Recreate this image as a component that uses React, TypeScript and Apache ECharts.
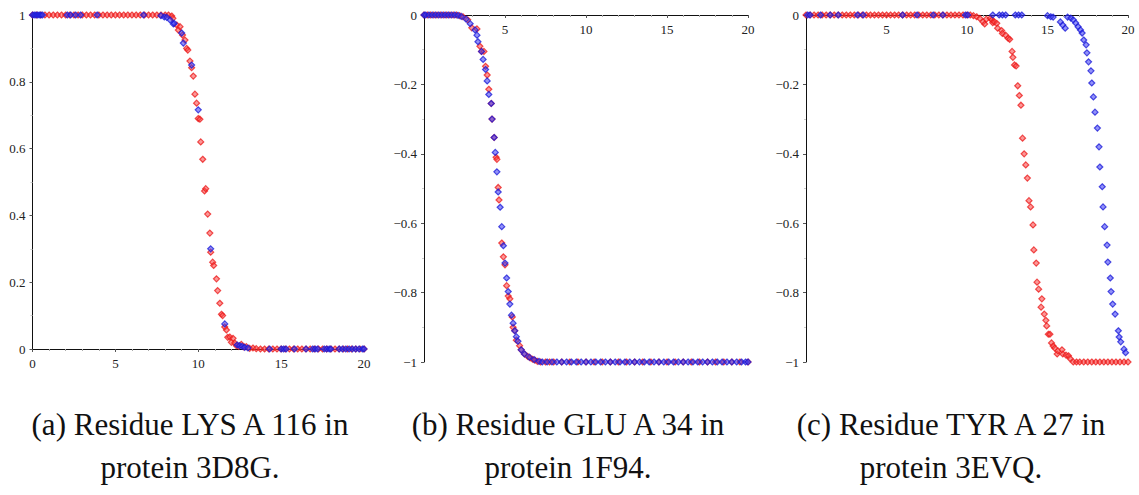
import React, { useEffect, useRef } from "react";
import * as echarts from "echarts";

// Panel (a): Residue LYS A 116 in protein 3D8G
const aRed: [number, number][] = [
  [0, 1], [0.25, 1], [0.5, 1], [0.75, 1], [1, 1], [1.25, 1], [1.5, 1], [1.75, 1], [2, 1], [2.25, 1], [2.5, 1], [2.75, 1],
  [3, 1], [3.25, 1], [3.5, 1], [3.75, 1], [4, 1], [4.25, 1], [4.5, 1], [4.75, 1], [5, 1], [5.25, 1], [5.5, 1], [5.75, 1],
  [6, 1], [6.25, 1], [6.5, 1], [6.75, 1], [7, 1], [7.25, 1], [7.5, 1], [7.75, 1], [8, 1], [8.2, 1],
  [8.4, 0.997], [8.47, 0.99], [8.7, 0.97], [8.8, 0.955], [8.9, 0.965], [9.05, 0.94], [9.2, 0.925], [9.3, 0.9],
  [9.37, 0.895], [9.5, 0.862], [9.6, 0.842], [9.7, 0.817], [9.8, 0.763], [9.9, 0.736], [10.0, 0.69], [10.1, 0.688],
  [10.15, 0.62], [10.27, 0.568], [10.38, 0.473], [10.45, 0.48], [10.57, 0.404], [10.7, 0.347], [10.75, 0.29],
  [10.87, 0.26], [10.93, 0.25], [11.1, 0.21], [11.17, 0.175], [11.3, 0.137], [11.4, 0.104], [11.47, 0.1],
  [11.6, 0.066], [11.7, 0.057], [11.78, 0.035], [11.9, 0.036], [12.0, 0.02], [12.1, 0.032], [12.2, 0.018],
  [12.3, 0.01], [12.45, 0.008], [12.6, 0.014], [12.75, 0.006], [12.9, 0.007],
  [13.1, 0.002], [13.3, 0.003], [13.5, 0.001], [13.75, 0], [14, 0], [14.25, 0], [14.5, 0], [14.75, 0], [15, 0],
  [15.25, 0], [15.5, 0], [15.75, 0], [16, 0], [16.25, 0], [16.5, 0], [16.75, 0], [17, 0], [17.25, 0], [17.5, 0],
  [17.75, 0], [18, 0], [18.25, 0], [18.5, 0], [18.75, 0], [19, 0], [19.25, 0], [19.5, 0], [19.75, 0], [20, 0],
];
const aBlue: [number, number][] = [
  [0, 1], [0.1, 1], [0.2, 1], [0.3, 1], [0.4, 1], [0.5, 1], [0.6, 1], [2.1, 1], [2.3, 1], [2.6, 1], [2.9, 1],
  [3.9, 1], [6.7, 1], [7.75, 0.998], [7.95, 0.994], [8.1, 0.993], [8.3, 0.985], [8.5, 0.973], [8.55, 0.975],
  [9.0, 0.946], [9.1, 0.916], [9.6, 0.85], [10.0, 0.716], [10.75, 0.3], [11.6, 0.075], [12.35, 0.012],
  [12.5, 0.01], [12.65, 0.008], [12.8, 0.005], [13.0, 0.003], [14.3, 0], [15.0, 0], [15.15, 0], [15.3, 0],
  [15.8, 0], [16.5, 0], [16.9, 0], [17.05, 0], [17.2, 0], [17.6, 0], [17.75, 0], [17.9, 0], [18.0, 0],
  [18.5, 0], [18.7, 0], [18.9, 0], [19.1, 0], [19.3, 0], [19.5, 0], [19.7, 0], [19.9, 0], [20, 0],
];

// Panel (b): Residue GLU A 34 in protein 1F94
const bRed: [number, number][] = [
  [0, 0], [0.2, 0], [0.4, 0], [0.6, 0], [0.8, 0], [1.0, 0], [1.2, 0], [1.4, 0], [1.6, 0], [1.8, 0], [2.0, 0],
  [2.2, -0.002], [2.4, -0.005], [2.7, -0.014], [2.95, -0.037], [3.27, -0.04], [3.45, -0.09], [3.55, -0.105],
  [3.7, -0.105], [3.8, -0.148], [3.9, -0.173], [4.0, -0.214], [4.15, -0.255], [4.2, -0.3], [4.33, -0.353],
  [4.45, -0.41], [4.5, -0.416], [4.58, -0.497], [4.63, -0.533], [4.8, -0.657], [4.9, -0.697], [5.0, -0.72],
  [5.1, -0.78], [5.2, -0.81], [5.3, -0.818], [5.45, -0.87], [5.5, -0.9], [5.6, -0.91], [5.7, -0.937],
  [5.9, -0.953], [6.0, -0.965], [6.2, -0.977], [6.4, -0.984], [6.55, -0.988], [6.7, -0.992], [6.85, -0.995],
  [7.0, -0.998], [7.2, -1], [7.5, -1], [7.75, -1], [8, -1], [8.5, -1], [9, -1], [9.5, -1], [10, -1], [10.5, -1],
  [11, -1], [11.5, -1], [12, -1], [12.5, -1], [13, -1], [13.5, -1], [14, -1], [14.5, -1], [15, -1], [15.5, -1],
  [16, -1], [16.5, -1], [17, -1], [17.5, -1], [18, -1], [18.5, -1], [19, -1], [19.5, -1], [20, -1],
];
const bBlue: [number, number][] = [
  [0, 0], [0.1, 0], [0.3, 0], [0.5, 0], [0.7, 0], [0.9, 0], [1.1, 0], [1.3, 0], [1.5, 0], [1.7, 0], [1.9, 0],
  [2.1, -0.001], [2.3, -0.004], [2.6, -0.012], [2.85, -0.025], [3.15, -0.043], [3.27, -0.058], [3.33, -0.077],
  [3.55, -0.105], [3.65, -0.128], [3.8, -0.157], [3.9, -0.19], [4.0, -0.229], [4.15, -0.255], [4.2, -0.3],
  [4.33, -0.353], [4.4, -0.396], [4.5, -0.452], [4.58, -0.51], [4.7, -0.554], [4.8, -0.61], [4.9, -0.665],
  [5.0, -0.715], [5.1, -0.758], [5.2, -0.797], [5.3, -0.833], [5.4, -0.865], [5.5, -0.888], [5.6, -0.91],
  [5.7, -0.927], [5.8, -0.94], [6.0, -0.965], [6.2, -0.977], [6.5, -0.986], [6.8, -0.993], [7.1, -0.998],
  [7.3, -1], [7.6, -1], [7.9, -1], [8.2, -1], [8.5, -1], [8.8, -1], [9.1, -1], [9.4, -1], [9.7, -1], [10, -1],
  [10.3, -1], [10.6, -1], [10.9, -1], [11.2, -1], [11.5, -1], [11.8, -1], [12.1, -1], [12.4, -1], [12.7, -1],
  [13, -1], [13.3, -1], [13.6, -1], [13.9, -1], [14.2, -1], [14.5, -1], [14.8, -1], [15.1, -1], [15.4, -1],
  [15.7, -1], [16, -1], [16.3, -1], [16.6, -1], [16.9, -1], [17.2, -1], [17.5, -1], [17.8, -1], [18.1, -1],
  [18.4, -1], [18.7, -1], [19, -1], [19.3, -1], [19.6, -1], [19.85, -1], [20, -1],
];

// Panel (c): Residue TYR A 27 in protein 3EVQ
const cRed: [number, number][] = [
  [0, 0], [0.25, 0], [0.5, 0], [0.75, 0], [1, 0], [1.25, 0], [1.5, 0], [1.75, 0], [2, 0], [2.25, 0], [2.5, 0],
  [2.75, 0], [3, 0], [3.25, 0], [3.5, 0], [3.75, 0], [4, 0], [4.25, 0], [4.5, 0], [4.75, 0], [5, 0], [5.25, 0],
  [5.5, 0], [5.75, 0], [6, 0], [6.25, 0], [6.5, 0], [6.75, 0], [7, 0], [7.25, 0], [7.5, 0], [7.75, 0], [8, 0],
  [8.25, 0], [8.5, 0], [8.75, 0], [9, 0], [9.25, 0], [9.5, 0], [9.75, 0], [10, 0], [10.2, 0], [10.4, -0.002],
  [10.6, -0.005], [10.8, -0.01], [11.0, -0.02], [11.1, -0.026], [11.2, -0.012], [11.45, -0.01], [11.55, -0.014],
  [11.6, -0.022], [11.7, -0.02], [11.85, -0.024], [11.9, -0.038], [12.15, -0.045], [12.2, -0.053], [12.4, -0.058],
  [12.55, -0.067], [12.65, -0.07], [12.8, -0.105], [12.85, -0.122], [12.95, -0.144], [13.05, -0.147],
  [13.15, -0.204], [13.25, -0.232], [13.35, -0.26], [13.45, -0.355], [13.55, -0.4], [13.65, -0.432],
  [13.75, -0.47], [13.85, -0.535], [13.95, -0.553], [14.1, -0.605], [14.15, -0.677], [14.3, -0.715],
  [14.35, -0.77], [14.45, -0.79], [14.6, -0.842], [14.65, -0.818], [14.8, -0.862], [14.9, -0.88],
  [14.95, -0.896], [15.05, -0.92], [15.15, -0.92], [15.25, -0.945], [15.35, -0.954], [15.45, -0.96],
  [15.6, -0.977], [15.65, -0.968], [15.9, -0.965], [15.95, -0.977], [16.15, -0.98], [16.3, -0.982],
  [16.4, -0.99], [16.6, -1], [16.8, -1], [17, -1], [17.25, -1], [17.5, -1], [17.75, -1], [18, -1], [18.25, -1],
  [18.5, -1], [18.75, -1], [19, -1], [19.25, -1], [19.5, -1], [19.75, -1], [20, -1],
];
const cBlue: [number, number][] = [
  [0.1, 0], [0.25, 0], [0.9, 0], [1.5, 0], [2.0, 0], [3.2, 0], [3.55, 0], [6.0, 0], [6.9, 0], [7.9, 0], [8.5, 0],
  [9.9, 0], [10.05, 0], [11.6, 0], [12.0, 0], [12.2, 0], [12.4, 0], [13.0, 0], [13.2, 0], [13.4, 0], [15.0, -0.002],
  [15.2, -0.005], [15.35, -0.006], [15.8, -0.02], [15.95, -0.029], [16.1, -0.038], [16.25, -0.006],
  [16.45, -0.009], [16.6, -0.014], [16.75, -0.023], [16.9, -0.034], [17.05, -0.043], [17.15, -0.052],
  [17.25, -0.072], [17.4, -0.086], [17.45, -0.109], [17.55, -0.135], [17.7, -0.161], [17.75, -0.196],
  [17.85, -0.236], [17.95, -0.28], [18.1, -0.326], [18.2, -0.38], [18.25, -0.438], [18.4, -0.495],
  [18.45, -0.553], [18.55, -0.61], [18.7, -0.663], [18.75, -0.712], [18.9, -0.758], [18.95, -0.797],
  [19.05, -0.833], [19.2, -0.862], [19.4, -0.91], [19.45, -0.928], [19.55, -0.942], [19.75, -0.963], [19.85, -0.973],
];

const captionLine1 = ["(a) Residue LYS A 116 in", "(b) Residue GLU A 34 in", "(c) Residue TYR A 27 in"];
const captionLine2 = ["protein 3D8G.", "protein 1F94.", "protein 3EVQ."];
const xTicks = { min: 0, max: 20, interval: 5 };

export default function App() {
  const ref = useRef<HTMLDivElement>(null);
  useEffect(() => {
    if (!ref.current) return;
    const chart = echarts.init(ref.current, undefined, { renderer: "svg" });
    const font = "Liberation Serif";
    const axisLine = { show: true, onZero: false, lineStyle: { color: "#111", width: 1 } };
    const label = { color: "#222", fontFamily: font, fontSize: 13 };
    const fmtY = (v: number) => {
      const r = Math.round(v * 10) / 10;
      if (r === 0) return "0";
      if (r === 1) return "1";
      if (r === -1) return "\u22121";
      return (r < 0 ? "\u2212" : "") + Math.abs(r).toFixed(1);
    };
    const grids = [
      { left: 32.5, top: 15, width: 331.5, height: 334 },
      { left: 424, top: 15, width: 324, height: 347 },
      { left: 806, top: 15, width: 322, height: 347 },
    ];
    const xAxes = grids.map((_, i) => ({
      type: "value",
      gridIndex: i,
      position: i === 0 ? "bottom" : "top",
      ...xTicks,
      axisLine,
      axisTick: { show: true, inside: i > 0, length: 3, lineStyle: { color: "#555" } },
      minorTick: { show: true, splitNumber: 5, length: 2, lineStyle: { color: "#aaa" } },
      splitLine: { show: false },
      axisLabel: {
        ...label,
        inside: i > 0,
        margin: 8,
        formatter: (v: number) => (i > 0 && v === 0 ? "" : String(v)),
      },
    }));
    const yAxes = grids.map((_, i) => ({
      type: "value",
      gridIndex: i,
      min: i === 0 ? 0 : -1,
      max: i === 0 ? 1 : 0,
      interval: 0.2,
      axisLine,
      axisTick: { show: true, length: 3, lineStyle: { color: "#555" } },
      minorTick: { show: true, splitNumber: 2, length: 2, lineStyle: { color: "#ccc" } },
      splitLine: { show: false },
      axisLabel: { ...label, margin: 7, formatter: fmtY },
    }));
    const red = {
      color: "rgba(250,70,70,0.7)",
      borderColor: "rgba(235,25,25,0.95)",
      borderWidth: 1.2,
    };
    const blue = {
      color: "rgba(60,60,245,0.7)",
      borderColor: "rgba(25,25,215,0.95)",
      borderWidth: 1.2,
    };
    const mk = (data: [number, number][], idx: number, style: any, z: number) => ({
      type: "scatter",
      xAxisIndex: idx,
      yAxisIndex: idx,
      data,
      symbol: "diamond",
      symbolSize: 6,
      itemStyle: style,
      z,
    });
    const centers = [190, 568, 951];
    const graphics: any[] = [];
    centers.forEach((cx, i) => {
      graphics.push({
        type: "text",
        x: cx,
        y: 424,
        style: {
          text: captionLine1[i], fontFamily: font, fontSize: 31, fill: "#111",
          textAlign: "center", textVerticalAlign: "middle",
        },
      });
      graphics.push({
        type: "text",
        x: cx,
        y: 467,
        style: {
          text: captionLine2[i], fontFamily: font, fontSize: 31, fill: "#111",
          textAlign: "center", textVerticalAlign: "middle",
        },
      });
    });
    chart.setOption({
      animation: false,
      backgroundColor: "#fff",
      textStyle: { fontFamily: font },
      grid: grids,
      xAxis: xAxes,
      yAxis: yAxes,
      series: [
        mk(aRed, 0, red, 2),
        mk(aBlue, 0, blue, 3),
        mk(bRed, 1, red, 2),
        mk(bBlue, 1, blue, 3),
        mk(cRed, 2, red, 2),
        mk(cBlue, 2, blue, 3),
      ],
      graphic: graphics,
    });
    return () => chart.dispose();
  }, []);
  return (
    <div
      ref={ref}
      style={{ position: "absolute", left: 0, top: 0, width: 1139, height: 495, background: "#fff" }}
    />
  );
}
